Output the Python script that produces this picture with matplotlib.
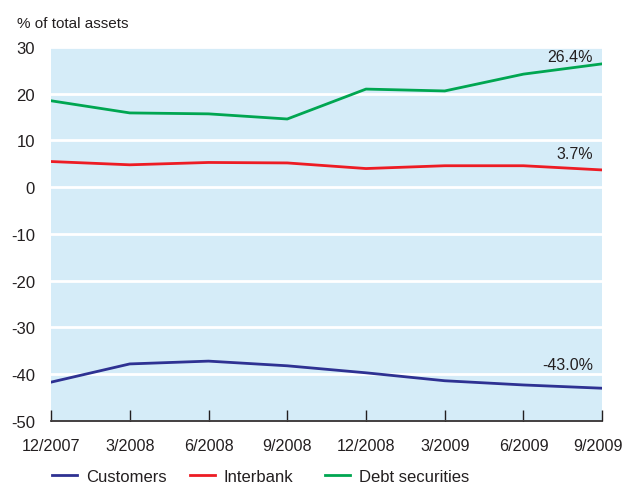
import matplotlib.pyplot as plt
from matplotlib.transforms import ScaledTranslation

plt.rcParams['font.family'] = ['Liberation Sans', 'DejaVu Sans']
plt.rcParams['axes.unicode_minus'] = False

# data
dates = ["12/2007", "3/2008", "6/2008", "9/2008", "12/2008", "3/2009", "6/2009", "9/2009"]
customers = [-41.7, -37.8, -37.2, -38.2, -39.7, -41.4, -42.3, -43.0]
interbank = [5.5, 4.8, 5.3, 5.2, 4.0, 4.6, 4.6, 3.7]
debt_securities = [18.5, 15.9, 15.7, 14.6, 21.0, 20.6, 24.2, 26.4]

blue = "#2e3192"
red = "#ed1c24"
green = "#00a651"
txt = "#231f20"

fig = plt.figure(figsize=(6.26, 4.85), dpi=100)
ax = fig.add_axes([0.0815, 0.13, 0.8805, 0.771])
ax.set_facecolor("#d5ecf8")

x = range(len(dates))
l1, = ax.plot(x, customers, color=blue, lw=2.0, label="Customers")
l2, = ax.plot(x, interbank, color=red, lw=2.0, label="Interbank")
l3, = ax.plot(x, debt_securities, color=green, lw=2.0, label="Debt securities")

ax.set_xlim(0, len(dates) - 1)
ax.set_ylim(-50, 30)
ax.set_yticks(range(-50, 31, 10))
ax.set_xticks(list(x))
ax.set_xticklabels(dates)
ax.grid(axis="y", color="white", lw=2)
ax.set_axisbelow(True)

for s in ["top", "right", "left"]:
    ax.spines[s].set_visible(False)
ax.spines["bottom"].set_color(txt)
ax.spines["bottom"].set_linewidth(1.2)
ax.tick_params(axis="x", direction="in", length=8, width=1, color=txt,
               labelsize=11.6, labelcolor=txt, pad=12)
ax.tick_params(axis="y", length=0, labelsize=12, labelcolor=txt, pad=11.5)
# nudge the last date label a bit left so it stays inside the figure
lab = ax.get_xticklabels()[-1]
lab.set_transform(lab.get_transform() + ScaledTranslation(-4 / 100, 0, fig.dpi_scale_trans))

# end-point labels
last = len(dates) - 1
ax.annotate("26.4%", (last, debt_securities[-1]), xytext=(-6.5, 5),
            textcoords="offset points", ha="right", va="center", fontsize=11.5, color=txt)
ax.annotate("3.7%", (last, interbank[-1]), xytext=(-6.5, 11.5),
            textcoords="offset points", ha="right", va="center", fontsize=11.5, color=txt)
ax.annotate("-43.0%", (last, customers[-1]), xytext=(-6.5, 17),
            textcoords="offset points", ha="right", va="center", fontsize=11.5, color=txt)

fig.text(0.027, 0.95, "% of total assets", fontsize=11, color=txt, va="center")

# legend entries spaced evenly along the bottom
for h, xpos in zip([l1, l2, l3], [0.083, 0.303, 0.519]):
    fig.legend(handles=[h], loc="center left", bbox_to_anchor=(xpos, 0.015),
               frameon=False, fontsize=12, handlelength=1.5, handletextpad=0.55,
               borderpad=0, borderaxespad=0, labelcolor=txt)

fig.savefig("out.png", dpi=100)
